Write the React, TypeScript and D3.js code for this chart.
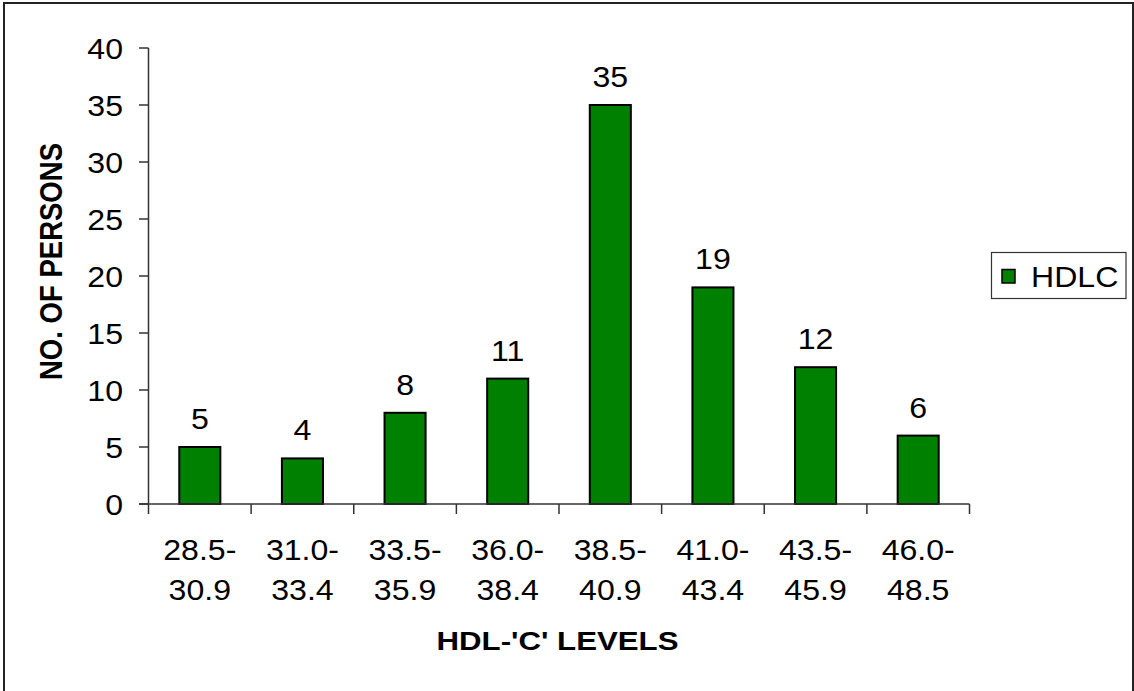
import React from "react";
import * as d3 from "d3";

// HDL-C level ranges and number of persons in each range
const categories: string[] = [
  "28.5-30.9",
  "31.0-33.4",
  "33.5-35.9",
  "36.0-38.4",
  "38.5-40.9",
  "41.0-43.4",
  "43.5-45.9",
  "46.0-48.5",
];
const persons: number[] = [5, 4, 8, 11, 35, 19, 12, 6];
const yTicks: number[] = [0, 5, 10, 15, 20, 25, 30, 35, 40];
const seriesName = "HDLC";
const xTitle = "HDL-'C' LEVELS";
const yTitle = "NO. OF PERSONS";

const W = 1134;
const H = 691;
const FONT = "Liberation Sans, Arial, Helvetica, sans-serif";
const GREEN = "#008000";
const AXIS = "#333";
const SX = 1.07; // slight horizontal widening of the label glyphs

function Label({
  x,
  y,
  anchor = "middle",
  children,
}: {
  x: number;
  y: number;
  anchor?: "start" | "middle" | "end";
  children: React.ReactNode;
}) {
  return (
    <text
      transform={`translate(${x},${y}) scale(${SX},1)`}
      textAnchor={anchor}
      fontSize={30}
      fill="#000"
    >
      {children}
    </text>
  );
}

export default function App() {
  const x = d3.scaleBand<string>().domain(categories).range([148.5, 969.5]).padding(0);
  const y = d3.scaleLinear().domain([0, 40]).range([504, 48]);
  const barW = x.bandwidth() / 2.5;
  const [y0] = y.range();

  return (
    <svg
      width={W}
      height={H}
      style={{ position: "absolute", left: 0, top: 0, background: "#fff" }}
      fontFamily={FONT}
    >
      <rect x={0} y={0} width={W} height={H} fill="#fff" />
      {/* outer frame */}
      <rect x={4} y={3} width={1129} height={H + 10} fill="none" stroke="#222" strokeWidth={2} />

      {/* bars with value labels */}
      {categories.map((c, i) => {
        const cx = (x(c) as number) + x.bandwidth() / 2;
        return (
          <g key={c}>
            <rect
              x={cx - barW / 2}
              y={y(persons[i])}
              width={barW}
              height={y0 - y(persons[i])}
              fill={GREEN}
              stroke="#000"
              strokeWidth={2}
            />
            <Label x={cx} y={y(persons[i]) - 18}>
              {persons[i]}
            </Label>
          </g>
        );
      })}

      {/* y axis */}
      <line x1={148.5} x2={148.5} y1={48} y2={y0} stroke={AXIS} strokeWidth={1.5} />
      {yTicks.map((t) => (
        <g key={t}>
          <line x1={139} x2={148.5} y1={y(t)} y2={y(t)} stroke={AXIS} strokeWidth={1.5} />
          <Label x={123} y={y(t) + 11} anchor="end">
            {t}
          </Label>
        </g>
      ))}

      {/* x axis */}
      <line x1={139} x2={969.5} y1={y0} y2={y0} stroke={AXIS} strokeWidth={1.5} />
      {[...categories.map((c) => x(c) as number), 969.5].map((px, i) => (
        <line key={i} x1={px} x2={px} y1={y0} y2={y0 + 10} stroke={AXIS} strokeWidth={1.5} />
      ))}
      {categories.map((c) => {
        const cx = (x(c) as number) + x.bandwidth() / 2;
        const k = c.indexOf("-");
        return (
          <g key={c}>
            <Label x={cx} y={560}>{c.slice(0, k + 1)}</Label>
            <Label x={cx} y={600}>{c.slice(k + 1)}</Label>
          </g>
        );
      })}

      {/* axis titles */}
      <text
        x={557.5}
        y={650}
        textAnchor="middle"
        fontSize={26}
        fontWeight="bold"
        textLength={242}
        lengthAdjust="spacingAndGlyphs"
      >
        {xTitle}
      </text>
      <text
        transform="translate(62,261.5) rotate(-90)"
        x={0}
        y={0}
        textAnchor="middle"
        fontSize={31}
        fontWeight="bold"
        textLength={237}
        lengthAdjust="spacingAndGlyphs"
      >
        {yTitle}
      </text>

      {/* legend */}
      <rect x={991.5} y={252.5} width={134.5} height={46} fill="#fff" stroke="#333" strokeWidth={1.2} />
      <rect x={1002} y={269.5} width={13} height={13.5} fill={GREEN} stroke="#000" strokeWidth={1.5} />
      <Label x={1031} y={286.5} anchor="start">
        {seriesName}
      </Label>
    </svg>
  );
}
